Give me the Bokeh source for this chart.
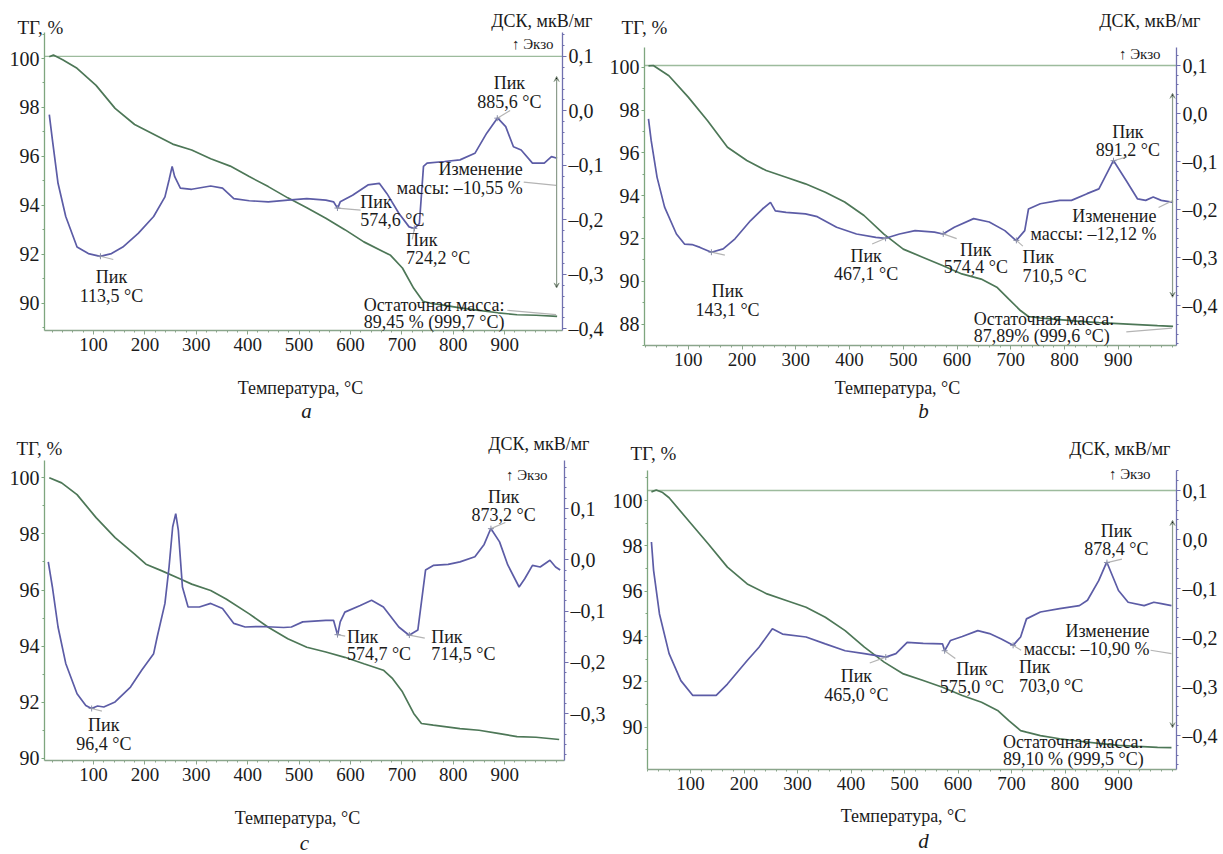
import numpy as np
from bokeh.plotting import figure
from bokeh.models import (Range1d, LinearAxis, FixedTicker, CustomJSTickFormatter,
                          Label, Arrow, VeeHead)
from bokeh.layouts import column, row
from bokeh.embed import file_html
from bokeh.resources import INLINE

# ---------------- data ----------------
temp_ticks = [100, 200, 300, 400, 500, 600, 700, 800, 900]
temp_minor = list(range(20, 1001, 20))

# panel a
a_tg_t = [14, 22, 40, 68, 105, 142, 180, 217, 254, 291, 328, 366, 403, 440, 478, 515, 552, 589, 626, 664, 678, 701, 723, 741, 760, 775, 813, 850, 887, 924, 961, 1002]
a_tg = [100.07, 100.14, 99.95, 99.6, 98.9, 97.96, 97.3, 96.9, 96.5, 96.26, 95.9, 95.6, 95.17, 94.76, 94.3, 93.9, 93.47, 93.0, 92.5, 92.1, 91.95, 91.43, 90.6, 90.07, 89.97, 89.93, 89.8, 89.7, 89.6, 89.52, 89.5, 89.45]
a_dsc_t = [14, 20, 31, 46, 68, 90, 113, 135, 157, 187, 217, 239, 247, 253, 258, 269, 291, 328, 351, 373, 403, 440, 478, 515, 552, 567, 575, 580, 604, 634, 656, 671, 694, 714, 724, 734, 742, 749, 783, 813, 842, 865, 886, 902, 917, 932, 954, 977, 991, 1002]
a_dsc = [-0.007, -0.053, -0.133, -0.194, -0.250, -0.262, -0.267, -0.262, -0.250, -0.225, -0.194, -0.158, -0.127, -0.102, -0.121, -0.142, -0.144, -0.138, -0.142, -0.161, -0.165, -0.167, -0.164, -0.161, -0.164, -0.167, -0.179, -0.167, -0.155, -0.136, -0.133, -0.152, -0.188, -0.213, -0.216, -0.207, -0.102, -0.096, -0.093, -0.090, -0.078, -0.041, -0.013, -0.029, -0.066, -0.072, -0.096, -0.096, -0.084, -0.087]
a_peaks = [113.5, 574.6, 724.2, 885.6]

# panel b
b_tg_t = [26, 35, 64, 100, 136, 173, 209, 245, 282, 318, 355, 391, 427, 464, 500, 536, 573, 609, 645, 675, 696, 718, 733, 755, 791, 827, 864, 900, 936, 973, 1002]
b_tg = [100.06, 100.08, 99.6, 98.6, 97.5, 96.26, 95.64, 95.17, 94.86, 94.55, 94.16, 93.7, 93.07, 92.2, 91.5, 91.12, 90.73, 90.34, 90.1, 89.7, 89.17, 88.63, 88.35, 88.28, 88.2, 88.12, 88.06, 88.02, 87.97, 87.92, 87.89]
b_dsc_t = [26, 31, 42, 56, 78, 93, 107, 122, 143, 165, 187, 216, 238, 253, 262, 282, 318, 340, 376, 413, 449, 467, 493, 522, 558, 574, 595, 631, 660, 689, 710, 726, 733, 755, 791, 813, 842, 864, 891, 915, 936, 951, 965, 980, 1002]
b_dsc = [-0.011, -0.056, -0.133, -0.195, -0.251, -0.272, -0.273, -0.279, -0.289, -0.282, -0.261, -0.223, -0.199, -0.185, -0.203, -0.206, -0.209, -0.215, -0.237, -0.251, -0.258, -0.260, -0.251, -0.244, -0.247, -0.251, -0.237, -0.219, -0.226, -0.244, -0.265, -0.244, -0.199, -0.188, -0.181, -0.181, -0.167, -0.157, -0.098, -0.140, -0.178, -0.181, -0.174, -0.181, -0.185]
b_peaks = [143.1, 467.1, 574.4, 710.5, 891.2]

# panel c
c_tg_t = [14, 38, 68, 105, 142, 180, 202, 232, 269, 291, 328, 358, 403, 440, 478, 515, 552, 589, 626, 664, 682, 701, 723, 738, 761, 813, 850, 887, 924, 961, 1006]
c_tg = [100.0, 99.82, 99.4, 98.58, 97.87, 97.28, 96.92, 96.69, 96.39, 96.21, 95.98, 95.68, 95.15, 94.67, 94.26, 93.96, 93.79, 93.6, 93.37, 93.14, 92.84, 92.37, 91.6, 91.24, 91.18, 91.06, 91.0, 90.89, 90.77, 90.75, 90.67]
c_dsc_t = [12, 20, 31, 46, 68, 85, 96, 108, 120, 142, 172, 194, 217, 224, 239, 247, 254, 260, 265, 273, 284, 306, 328, 351, 373, 395, 425, 470, 485, 507, 552, 567, 575, 580, 589, 619, 641, 664, 694, 714, 731, 746, 761, 790, 813, 842, 860, 873, 890, 906, 928, 939, 954, 969, 988, 999, 1008]
c_dsc = [-0.004, -0.053, -0.131, -0.202, -0.261, -0.284, -0.290, -0.285, -0.287, -0.277, -0.248, -0.215, -0.183, -0.150, -0.085, -0.014, 0.064, 0.090, 0.058, -0.053, -0.092, -0.092, -0.085, -0.095, -0.124, -0.131, -0.130, -0.132, -0.131, -0.121, -0.118, -0.118, -0.147, -0.121, -0.102, -0.089, -0.079, -0.092, -0.131, -0.147, -0.137, -0.020, -0.011, -0.009, -0.004, 0.006, 0.030, 0.061, 0.035, -0.010, -0.053, -0.037, -0.011, -0.014, -0.001, -0.014, -0.020]
c_peaks = [96.4, 574.7, 714.5, 873.2]

# panel d
d_tg_t = [27, 36, 48, 60, 96, 133, 169, 206, 243, 279, 316, 352, 389, 425, 462, 498, 535, 571, 608, 644, 674, 695, 717, 728, 754, 790, 827, 863, 900, 936, 973, 999]
d_tg = [100.38, 100.46, 100.35, 100.12, 99.12, 98.09, 97.06, 96.32, 95.88, 95.59, 95.29, 94.85, 94.26, 93.53, 92.87, 92.35, 92.06, 91.76, 91.4, 91.1, 90.74, 90.29, 89.85, 89.78, 89.63, 89.49, 89.38, 89.29, 89.2, 89.15, 89.11, 89.10]
d_dsc_t = [27, 31, 42, 60, 82, 104, 126, 148, 169, 206, 228, 253, 272, 316, 352, 389, 425, 465, 484, 505, 535, 571, 575, 586, 608, 637, 659, 681, 703, 717, 728, 754, 790, 827, 842, 863, 878, 900, 918, 948, 966, 980, 999]
d_dsc = [-0.005, -0.063, -0.152, -0.233, -0.288, -0.318, -0.318, -0.318, -0.295, -0.247, -0.220, -0.182, -0.193, -0.199, -0.213, -0.227, -0.233, -0.240, -0.233, -0.210, -0.212, -0.213, -0.227, -0.206, -0.198, -0.186, -0.192, -0.203, -0.216, -0.199, -0.162, -0.148, -0.141, -0.135, -0.124, -0.084, -0.046, -0.104, -0.128, -0.135, -0.128, -0.131, -0.135]
d_peaks = [465.0, 575.0, 703.0, 878.4]

# ---------------- style ----------------
FONT = "Liberation Serif"
TXT = "#1b1b1b"
TG_COL = "#4d7757"
DSC_COL = "#5c5ca6"
LEFT_AX = "#7ea67f"
RIGHT_AX = "#7070ae"
BOT_AX = "#8aa58b"
HLINE = "#9dbb9d"
LEAD = "#b4b4b4"
ARROW = "#8c9c8c"

# geometry: box=(left, top, width, height) of each figure; axes=(L, R, T, B) pixel edges;
# scale: x px = xo + xs*T ; TG 100 at pixel tg100, tgs px per % ; DSC 0.1 at d01, ds px per unit
panels = [
    dict(name="a", box=(0, 0, 606, 427), axes=(44, 562, 32, 330),
         scale=(41.6, 0.514, 58.0, 24.45, 55.8, 545.0),
         tg_ticks=[90, 92, 94, 96, 98, 100], dsc_ticks=[-0.4, -0.3, -0.2, -0.1, 0.0, 0.1],
         tg_t=a_tg_t, tg=a_tg, dsc_t=a_dsc_t, dsc=a_dsc, peaks=a_peaks,
         leads=[(25, -0.006), (45, -0.004), (-4, -0.02), (25, 0.014)],
         hline=True, arrow=(1001, 0.063, -0.325),
         extra_leads=[((937, -0.131), (1000, -0.137)), ((905, -0.366), (1000, -0.374))],
         texts=[("Пик", 135, -0.305, "center"), ("113,5 °C", 135, -0.339, "center"),
                ("Пик", 619, -0.167, "left"), ("574,6 °C", 619, -0.201, "left"),
                ("Пик", 708, -0.237, "left"), ("724,2 °C", 708, -0.271, "left"),
                ("Пик", 909, 0.051, "center"), ("885,6 °C", 909, 0.017, "center"),
                ("Изменение", 935, -0.106, "right"), ("массы: –10,55 %", 935, -0.142, "right"),
                ("Остаточная масса:", 626, -0.357, "left"), ("89,45 % (999,7 °C)", 626, -0.388, "left")],
         tg_title=(17, 27), dsc_title=(592, 20), x_title=(300, 387), letter=(306, 410), exo=(553, 43)),
    dict(name="b", box=(606, 0, 617, 427), axes=(644, 1176, 47, 345),
         scale=(634.0, 0.5375, 66.7, 21.4, 65.0, 480.0),
         tg_ticks=[88, 90, 92, 94, 96, 98, 100], dsc_ticks=[-0.4, -0.3, -0.2, -0.1, 0.0, 0.1],
         tg_t=b_tg_t, tg=b_tg, dsc_t=b_dsc_t, dsc=b_dsc, peaks=b_peaks,
         leads=[(25, -0.006), (-25, -0.012), (25, -0.01), (12, -0.012), (25, 0.008)],
         hline=True, arrow=(1001, 0.042, -0.383),
         extra_leads=[((975, -0.196), (1000, -0.182)), ((915, -0.455), (1000, -0.447))],
         texts=[("Пик", 173, -0.369, "center"), ("143,1 °C", 173, -0.410, "center"),
                ("Пик", 431, -0.296, "center"), ("467,1 °C", 431, -0.334, "center"),
                ("Пик", 635, -0.285, "center"), ("574,4 °C", 635, -0.320, "center"),
                ("Пик", 722, -0.299, "left"), ("710,5 °C", 722, -0.3375, "left"),
                ("Пик", 918, -0.039, "center"), ("891,2 °C", 918, -0.077, "center"),
                ("Изменение", 971, -0.2125, "right"), ("массы: –12,12 %", 971, -0.251, "right"),
                ("Остаточная масса:", 631, -0.428, "left"), ("87,89% (999,6 °C)", 631, -0.4625, "left")],
         tg_title=(621, 27), dsc_title=(1200, 20), x_title=(897, 387), letter=(923, 410), exo=(1160, 53)),
    dict(name="c", box=(0, 427, 607, 427), axes=(44, 564, 460, 760),
         scale=(41.6, 0.514, 477.3, 28.05, 508.0, 513.0),
         tg_ticks=[90, 92, 94, 96, 98, 100], dsc_ticks=[-0.3, -0.2, -0.1, 0.0, 0.1],
         tg_t=c_tg_t, tg=c_tg, dsc_t=c_dsc_t, dsc=c_dsc, peaks=c_peaks,
         leads=[(20, -0.005), (15, -0.003), (30, -0.006), (28, 0.012)],
         hline=False, arrow=None, extra_leads=[],
         texts=[("Пик", 120, -0.323, "center"), ("96,4 °C", 120, -0.359, "center"),
                ("Пик", 593, -0.150, "left"), ("574,7 °C", 593, -0.183, "left"),
                ("Пик", 757, -0.150, "left"), ("714,5 °C", 757, -0.183, "left"),
                ("Пик", 898, 0.123, "center"), ("873,2 °C", 898, 0.087, "center")],
         tg_title=(16, 448), dsc_title=(589, 443), x_title=(297, 817), letter=(304, 842), exo=(547, 474)),
    dict(name="d", box=(607, 427, 616, 427), axes=(647, 1176, 470, 769),
         scale=(636.5, 0.535, 500.0, 22.67, 490.0, 490.0),
         tg_ticks=[90, 92, 94, 96, 98, 100], dsc_ticks=[-0.4, -0.3, -0.2, -0.1, 0.0, 0.1],
         tg_t=d_tg_t, tg=d_tg, dsc_t=d_dsc_t, dsc=d_dsc, peaks=d_peaks,
         leads=[(-30, -0.012), (20, -0.016), (15, -0.01), (28, 0.007)],
         hline=True, arrow=(1001, 0.039, -0.384),
         extra_leads=[((960, -0.226), (999, -0.233))],
         texts=[("Пик", 410, -0.278, "center"), ("465,0 °C", 410, -0.318, "center"),
                ("Пик", 626, -0.264, "center"), ("575,0 °C", 626, -0.301, "center"),
                ("Пик", 714, -0.261, "left"), ("703,0 °C", 714, -0.298, "left"),
                ("Пик", 896, 0.018, "center"), ("878,4 °C", 896, -0.019, "center"),
                ("Изменение", 958, -0.186, "right"), ("массы: –10,90 %", 958, -0.223, "right"),
                ("Остаточная масса:", 684, -0.414, "left"), ("89,10 % (999,5 °C)", 684, -0.448, "left")],
         tg_title=(630, 453), dsc_title=(1170, 448), x_title=(903, 815), letter=(923, 840), exo=(1150, 473)),
]

dsc_fmt_code = "return (tick < -1e-9 ? '\u2013' : '') + Math.abs(tick).toFixed(1).replace('.', ',');"


def style_axis(ax, color, size):
    ax.axis_line_color = color
    ax.axis_line_width = 1.3
    ax.major_tick_line_color = color
    ax.minor_tick_line_color = color
    ax.major_tick_out = 4
    ax.major_tick_in = 0
    ax.minor_tick_out = 2
    ax.minor_tick_in = 0
    ax.major_label_text_font = FONT
    ax.major_label_text_font_size = size
    ax.major_label_text_color = TXT
    ax.major_label_standoff = 2


def within(vals, lo, hi):
    return [v for v in vals if lo <= v <= hi]


def make_panel(cfg):
    ox, oy, W, H = cfg["box"]
    L, R, T, B = cfg["axes"]
    xo, xs, tg100, tgs, d01, ds = cfg["scale"]

    def X(px):
        return (px - xo) / xs

    def G(py):
        return 100.0 - (py - tg100) / tgs

    def D(py):
        return 0.1 - (py - d01) / ds

    p = figure(width=W, height=H, x_range=Range1d(X(ox), X(ox + W)),
               y_range=Range1d(G(oy + H), G(oy)),
               x_axis_type=None, y_axis_type=None,
               output_backend="svg", toolbar_location=None, min_border=0)
    p.title.visible = False
    p.outline_line_color = None
    p.background_fill_color = "white"
    p.border_fill_color = "white"
    p.grid.visible = False
    p.extra_y_ranges = {"dsc": Range1d(D(oy + H), D(oy))}

    # axes drawn by Bokeh at the frame edges of the original chart
    xa = LinearAxis(fixed_location=G(B), bounds=(X(L), X(R)))
    xa.ticker = FixedTicker(ticks=temp_ticks, minor_ticks=within(temp_minor, X(L), X(R)))
    style_axis(xa, BOT_AX, "19px")
    xa.major_label_standoff = 3
    p.add_layout(xa, "below")

    ya = LinearAxis(fixed_location=X(L), bounds=(G(B), G(T)))
    ya.ticker = FixedTicker(ticks=cfg["tg_ticks"],
                            minor_ticks=within(list(range(86, 102)), G(B), G(T)))
    style_axis(ya, LEFT_AX, "20px")
    ya.major_tick_out = 3
    p.add_layout(ya, "left")

    ra = LinearAxis(y_range_name="dsc", fixed_location=X(R), bounds=(D(B), D(T)))
    dmin = [round(v, 2) for v in np.arange(-0.48, 0.2, 0.02)]
    ra.ticker = FixedTicker(ticks=cfg["dsc_ticks"], minor_ticks=within(dmin, D(B), D(T)))
    ra.formatter = CustomJSTickFormatter(code=dsc_fmt_code)
    style_axis(ra, RIGHT_AX, "20px")
    p.add_layout(ra, "right")

    # baseline and mass-change arrow
    if cfg["hline"]:
        p.line([X(L), X(R)], [0.1, 0.1], y_range_name="dsc", line_color=HLINE, line_width=1.3)
    if cfg["arrow"] is not None:
        at, ay0, ay1 = cfg["arrow"]
        p.add_layout(Arrow(start=VeeHead(size=5, line_color=ARROW, line_width=1),
                           end=VeeHead(size=5, line_color=ARROW, line_width=1),
                           x_start=at, y_start=ay0, x_end=at, y_end=ay1,
                           y_range_name="dsc", line_color=ARROW, line_width=1.2))

    # curves
    p.line(cfg["tg_t"], cfg["tg"], line_color=TG_COL, line_width=1.7)
    p.line(cfg["dsc_t"], cfg["dsc"], line_color=DSC_COL, line_width=1.7, y_range_name="dsc")

    # peak markers and leader lines
    pk = np.array(cfg["peaks"])
    pv = np.interp(pk, cfg["dsc_t"], cfg["dsc"])
    lx = [[t, t + dx] for t, (dx, dy) in zip(pk, cfg["leads"])]
    ly = [[v, v + dy] for v, (dx, dy) in zip(pv, cfg["leads"])]
    for (s, e) in cfg["extra_leads"]:
        lx.append([s[0], e[0]])
        ly.append([s[1], e[1]])
    p.multi_line(lx, ly, line_color=LEAD, line_width=1.2, y_range_name="dsc")
    p.scatter(pk, pv, marker="cross", size=6, line_color="#8a8fa8", line_width=1,
              y_range_name="dsc")

    def lab(text, x, y, size, align, rng=None, style="normal"):
        kw = dict(x=x, y=y, text=text, text_align=align, text_baseline="middle",
                  text_font=FONT, text_font_size=size, text_color=TXT,
                  text_font_style=style)
        if rng:
            kw["y_range_name"] = rng
        p.add_layout(Label(**kw))

    for (txt, tx, ty, al) in cfg["texts"]:
        lab(txt, tx, ty, "18px", al, rng="dsc")
    ex, ey = cfg["exo"]
    lab("↑ Экзо", X(ex), G(ey), "15px", "right")
    tx, ty = cfg["tg_title"]
    lab("ТГ, %", X(tx), G(ty), "19px", "left")
    tx, ty = cfg["dsc_title"]
    lab("ДСК, мкВ/мг", X(tx), G(ty), "18px", "right")
    tx, ty = cfg["x_title"]
    lab("Температура, °C", X(tx), G(ty), "18px", "center")
    tx, ty = cfg["letter"]
    lab(cfg["name"], X(tx), G(ty), "21px", "center", style="italic")
    return p


figs = [make_panel(c) for c in panels]
layout = column(row(figs[0], figs[1]), row(figs[2], figs[3]))
open("out.html", "w").write(file_html(layout, INLINE))
